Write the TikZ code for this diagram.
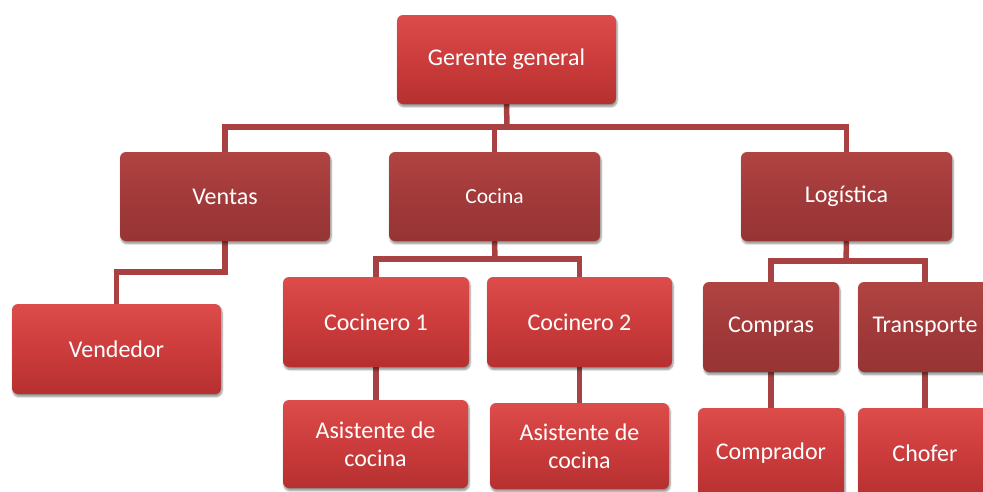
\documentclass[tikz,border=0pt]{standalone}
\usepackage{fontspec}
\setmainfont{Carlito}
\usetikzlibrary{shadows.blur,backgrounds}
\definecolor{boxtop}{RGB}{220,76,74}
\definecolor{boxmid}{RGB}{204,60,60}
\definecolor{boxbot}{RGB}{182,48,48}
\definecolor{dtop}{RGB}{176,68,66}
\definecolor{dmid}{RGB}{162,58,58}
\definecolor{dbot}{RGB}{150,52,52}
\definecolor{linec}{RGB}{168,66,66}
\begin{document}
\begin{tikzpicture}[x=1pt,y=-1pt,
  box/.style={rounded corners=6pt, top color=boxtop, bottom color=boxbot, middle color=boxmid,
    draw=none, text=white, font=\fontsize{24}{28}\selectfont, align=center, inner sep=0pt,
    blur shadow={shadow xshift=1pt, shadow yshift=-2.5pt, shadow blur steps=6, shadow opacity=45}},
  dbox/.style={box, top color=dtop, bottom color=dbot, middle color=dmid},
  link/.style={draw=linec, line width=5.5pt}
]
\useasboundingbox (0,0) rectangle (983,491);
\clip (0,0) rectangle (983,491);

\node[box, minimum width=219pt, minimum height=89pt] (g) at (506.5,59.5) {Gerente general};

\node[dbox, minimum width=210pt, minimum height=89pt] (ventas) at (225,196.5) {Ventas};
\node[dbox, minimum width=211pt, minimum height=89pt, font=\fontsize{21.5}{25}\selectfont] (cocina) at (494.5,196.5) {Cocina};
\node[dbox, minimum width=211pt, minimum height=89pt] (logistica) at (846.5,196.5) {Logística};

\node[box, minimum width=209pt, minimum height=90pt] (vendedor) at (116.5,349) {Vendedor};
\node[box, minimum width=186pt, minimum height=90pt] (coc1) at (376,322) {Cocinero 1};
\node[box, minimum width=185pt, minimum height=90pt] (coc2) at (579.5,322) {Cocinero 2};
\node[dbox, minimum width=136pt, minimum height=90pt] (compras) at (771,327) {Compras};
\node[dbox, minimum width=134pt, minimum height=90pt] (transporte) at (925,327) {Transporte};

\node[box, minimum width=185pt, minimum height=88pt] (asis1) at (375.5,444) {Asistente de\\cocina};
\node[box, minimum width=179pt, minimum height=86pt] (asis2) at (579.5,446) {Asistente de\\cocina};
\node[box, minimum width=146pt, minimum height=90pt] (comprador) at (771,453) {Comprador};
\node[box, minimum width=134pt, minimum height=90pt] (chofer) at (925,453) {Chofer};

\coordinate (jg) at (507,127);
\coordinate (jc) at (495,259);
\coordinate (jl) at (846,261);
\coordinate (jv) at (225,272);

\begin{scope}[on background layer]
\draw[link] (g.south) -- (jg);
\draw[link] (ventas.north) |- (jg) -| (logistica.north);
\draw[link] (cocina.north) -- (cocina.north |- jg);
\draw[link] (ventas.south) -- (jv) -| (vendedor.north);
\draw[link] (cocina.south) -- (jc);
\draw[link] (coc1.north) |- (jc) -| (coc2.north);
\draw[link] (logistica.south) -- (jl);
\draw[link] (compras.north) |- (jl) -| (transporte.north);
\draw[link] (coc1.south) -- (coc1.south |- asis1.north);
\draw[link] (coc2.south) -- (coc2.south |- asis2.north);
\draw[link] (compras.south) -- (compras.south |- comprador.north);
\draw[link] (transporte.south) -- (transporte.south |- chofer.north);
\end{scope}
\end{tikzpicture}
\end{document}
